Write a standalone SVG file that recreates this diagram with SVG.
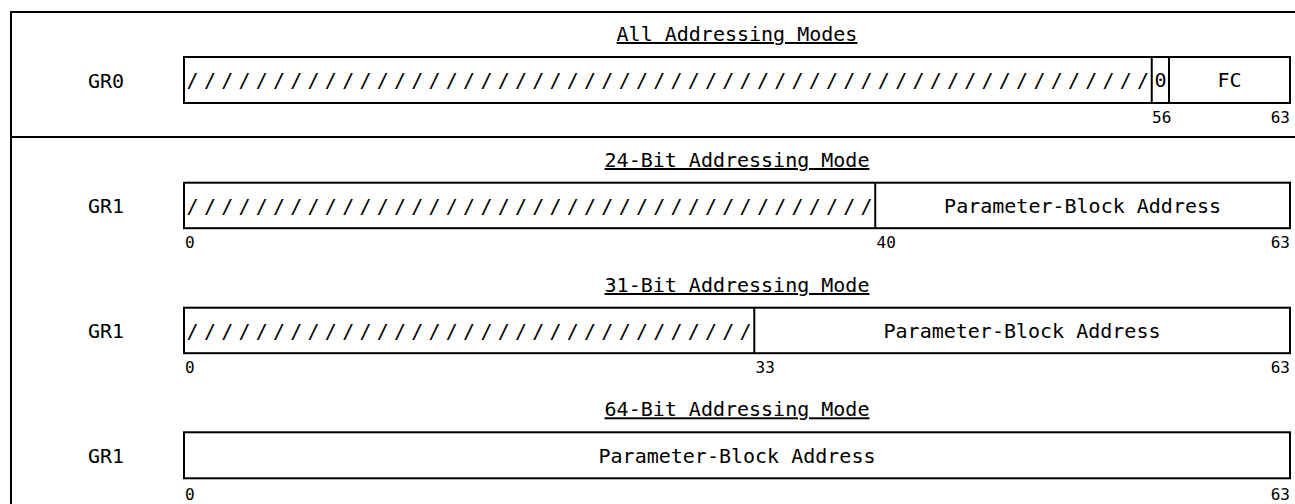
<svg xmlns="http://www.w3.org/2000/svg" width="1295" height="504" viewBox="0 0 1295 504">
<style>
text{font-family:"DejaVu Sans Mono","Liberation Mono",monospace;fill:#000}
.t{font-size:20px;text-anchor:middle}
.u{text-decoration:underline}
.n{font-size:16px}
.r{text-anchor:end}
.box{fill:#fff;stroke:#000;stroke-width:2}
.ln{stroke:#000;stroke-width:2;fill:none}
.sl{font-size:20px;text-anchor:middle}
</style>
<g id="frame">
<path class="ln" d="M11 504V12H1295M11 137H1295"/>
</g>
<g id="row-gr0">
<text class="t u" x="737" y="41">All Addressing Modes</text>
<text class="t" x="106" y="88">GR0</text>
<rect class="box" x="184" y="57" width="1106" height="46"/>
<path class="ln" d="M1151.75 57V103M1169 57V103"/>
<text class="sl" y="87" x="192.64 209.92 227.20 244.48 261.77 279.05 296.33 313.61 330.89 348.17 365.45 382.73 400.02 417.30 434.58 451.86 469.14 486.42 503.70 520.98 538.27 555.55 572.83 590.11 607.39 624.67 641.95 659.23 676.52 693.80 711.08 728.36 745.64 762.92 780.20 797.48 814.77 832.05 849.33 866.61 883.89 901.17 918.45 935.73 953.02 970.30 987.58 1004.86 1022.14 1039.42 1056.70 1073.98 1091.27 1108.55 1125.83 1143.11">////////////////////////////////////////////////////////</text>
<text class="t" x="1160.4" y="87">0</text>
<text class="t" x="1229.5" y="87">FC</text>
<text class="n" x="1152" y="123">56</text>
<text class="n r" x="1290" y="123">63</text>
</g>
<g id="row-gr1-24">
<text class="t u" x="737" y="167">24-Bit Addressing Mode</text>
<text class="t" x="106" y="213">GR1</text>
<rect class="box" x="184" y="182.7" width="1106" height="45.5"/>
<path class="ln" d="M875.25 182.7V228.2"/>
<text class="sl" y="212.5" x="192.64 209.92 227.20 244.48 261.77 279.05 296.33 313.61 330.89 348.17 365.45 382.73 400.02 417.30 434.58 451.86 469.14 486.42 503.70 520.98 538.27 555.55 572.83 590.11 607.39 624.67 641.95 659.23 676.52 693.80 711.08 728.36 745.64 762.92 780.20 797.48 814.77 832.05 849.33 866.61">////////////////////////////////////////</text>
<text class="t" x="1082.6" y="212.5">Parameter-Block Address</text>
<text class="n" x="185" y="248">0</text>
<text class="n" x="876.5" y="248">40</text>
<text class="n r" x="1290" y="248">63</text>
</g>
<g id="row-gr1-31">
<text class="t u" x="737" y="292">31-Bit Addressing Mode</text>
<text class="t" x="106" y="338">GR1</text>
<rect class="box" x="184" y="307.7" width="1106" height="45.5"/>
<path class="ln" d="M754.3 307.7V353.2"/>
<text class="sl" y="337.5" x="192.64 209.92 227.20 244.48 261.77 279.05 296.33 313.61 330.89 348.17 365.45 382.73 400.02 417.30 434.58 451.86 469.14 486.42 503.70 520.98 538.27 555.55 572.83 590.11 607.39 624.67 641.95 659.23 676.52 693.80 711.08 728.36 745.64">/////////////////////////////////</text>
<text class="t" x="1022" y="337.5">Parameter-Block Address</text>
<text class="n" x="185" y="373">0</text>
<text class="n" x="755.5" y="373">33</text>
<text class="n r" x="1290" y="373">63</text>
</g>
<g id="row-gr1-64">
<text class="t u" x="737" y="416.3">64-Bit Addressing Mode</text>
<text class="t" x="106" y="463">GR1</text>
<rect class="box" x="184" y="432.3" width="1106" height="46"/>
<text class="t" x="737" y="462.5">Parameter-Block Address</text>
<text class="n" x="185" y="500">0</text>
<text class="n r" x="1290" y="500">63</text>
</g>
</svg>
